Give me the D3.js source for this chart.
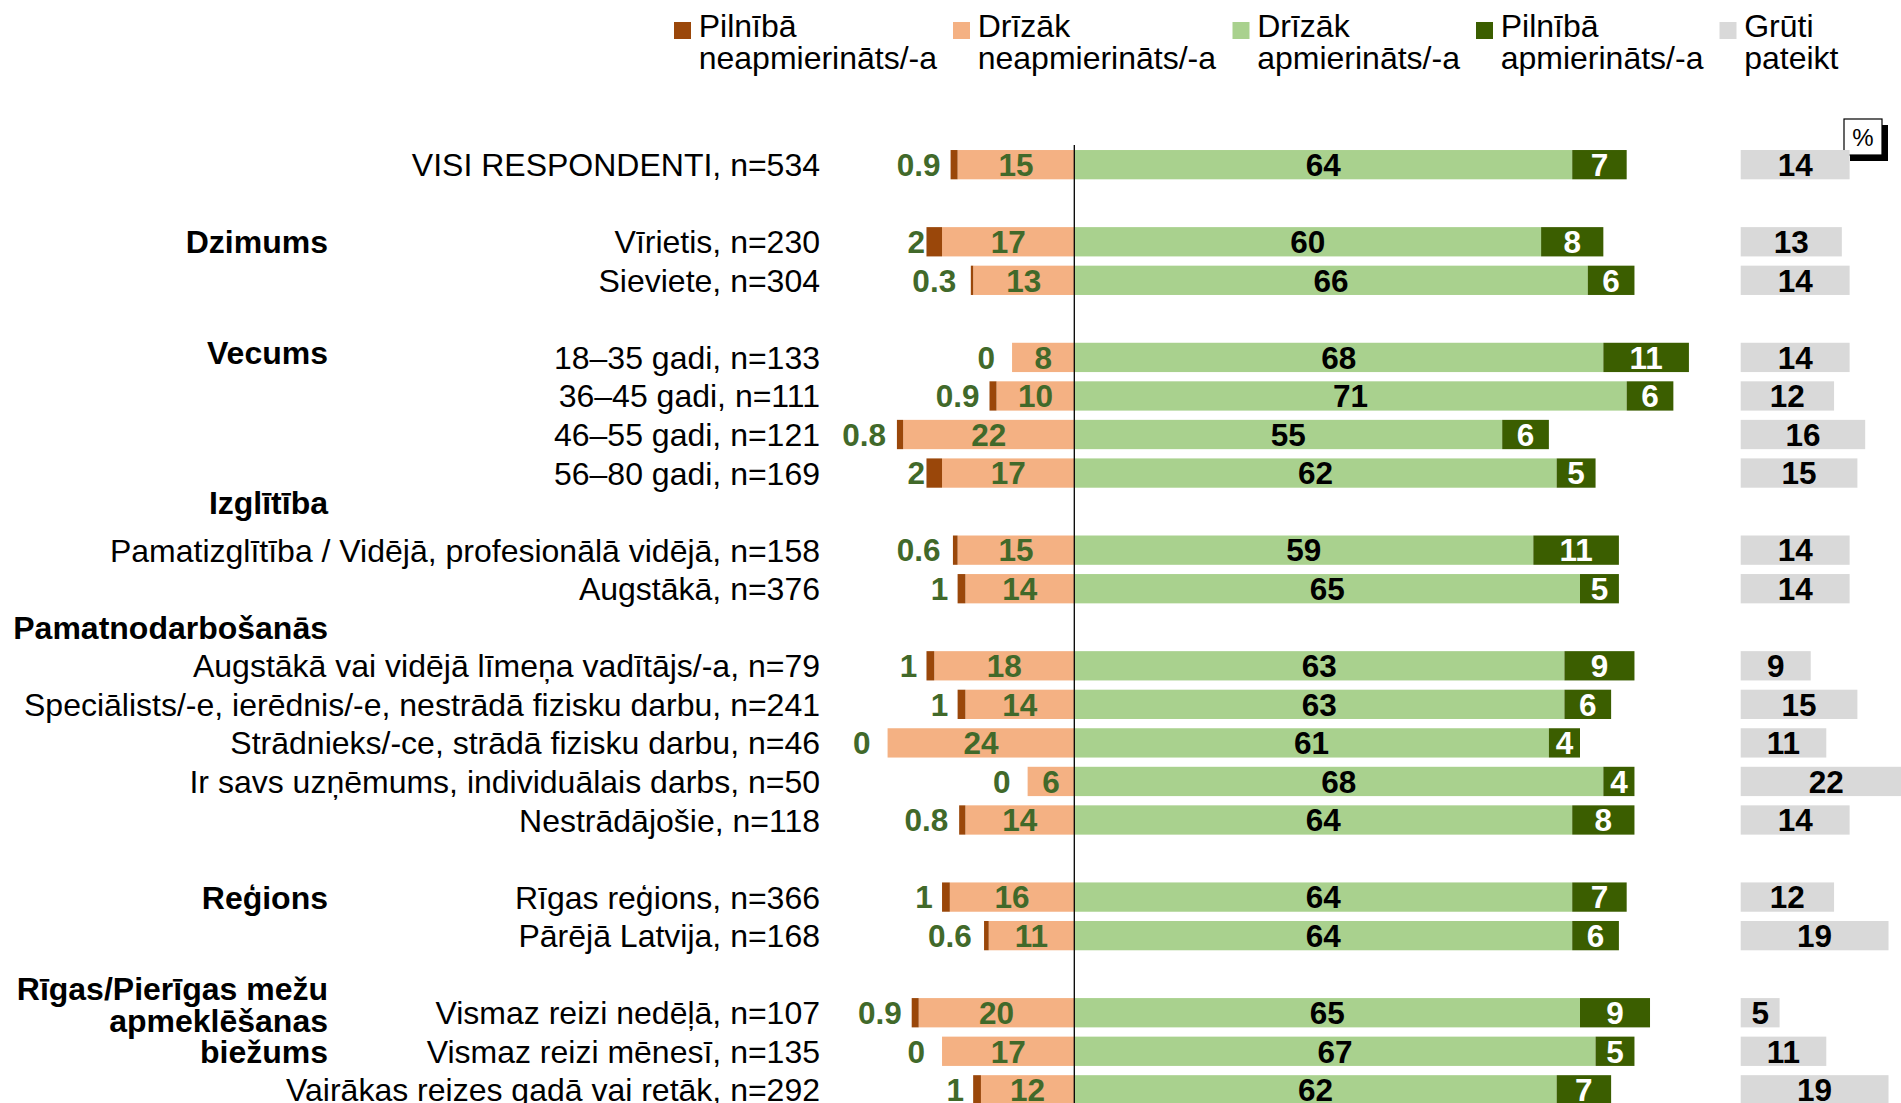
<!DOCTYPE html>
<html lang="lv">
<head>
<meta charset="utf-8">
<script src="https://cdn.jsdelivr.net/npm/d3@7/dist/d3.min.js"></script>
<style>
  html, body { margin: 0; padding: 0; background: #ffffff; }
  svg { display: block; }
  text { font-family: "Liberation Sans", Arial, Helvetica, sans-serif; }
</style>
</head>
<body>
<div id="chart"></div>
<script>
// Row labels; null marks an empty spacer row between groups
const categories = [
  "VISI RESPONDENTI, n=534",
  null,
  "Vīrietis, n=230",
  "Sieviete, n=304",
  null,
  "18–35 gadi, n=133",
  "36–45 gadi, n=111",
  "46–55 gadi, n=121",
  "56–80 gadi, n=169",
  null,
  "Pamatizglītība / Vidējā, profesionālā vidējā, n=158",
  "Augstākā, n=376",
  null,
  "Augstākā vai vidējā līmeņa vadītājs/-a, n=79",
  "Speciālists/-e, ierēdnis/-e, nestrādā fizisku darbu, n=241",
  "Strādnieks/-ce, strādā fizisku darbu, n=46",
  "Ir savs uzņēmums, individuālais darbs, n=50",
  "Nestrādājošie, n=118",
  null,
  "Rīgas reģions, n=366",
  "Pārējā Latvija, n=168",
  null,
  "Vismaz reizi nedēļā, n=107",
  "Vismaz reizi mēnesī, n=135",
  "Vairākas reizes gadā vai retāk, n=292"
];

// Series values, % (null on spacer rows)
const fullyDissatisfied = [0.9, null, 2, 0.3, null, 0, 0.9, 0.8, 2, null, 0.6, 1, null, 1, 1, 0, 0, 0.8, null, 1, 0.6, null, 0.9, 0, 1];
const ratherDissatisfied = [15, null, 17, 13, null, 8, 10, 22, 17, null, 15, 14, null, 18, 14, 24, 6, 14, null, 16, 11, null, 20, 17, 12];
const ratherSatisfied = [64, null, 60, 66, null, 68, 71, 55, 62, null, 59, 65, null, 63, 63, 61, 68, 64, null, 64, 64, null, 65, 67, 62];
const fullySatisfied = [7, null, 8, 6, null, 11, 6, 6, 5, null, 11, 5, null, 9, 6, 4, 4, 8, null, 7, 6, null, 9, 5, 7];
const hardToSay = [14, null, 13, 14, null, 14, 12, 16, 15, null, 14, 14, null, 9, 15, 11, 22, 14, null, 12, 19, null, 5, 11, 19];

// Group headings (lines) and the row each one belongs to
const groupNames = [
  ["Dzimums"],
  ["Vecums"],
  ["Izglītība"],
  ["Pamatnodarbošanās"],
  ["Reģions"],
  ["Rīgas/Pierīgas mežu", "apmeklēšanas", "biežums"]
];
const groupRows = [2, 5, 10, 13, 19, 22];

const legendNames = [
  ["Pilnībā", "neapmierināts/-a"],
  ["Drīzāk", "neapmierināts/-a"],
  ["Drīzāk", "apmierināts/-a"],
  ["Pilnībā", "apmierināts/-a"],
  ["Grūti", "pateikt"]
];

// ---- styling / layout ----
const W = 1901, H = 1103;
const colors = ["#9a470a", "#f4b183", "#a9d18e", "#3b5e00", "#d9d9d9"];
const greenText = "#41692a";
const fontSize = 32;
const valueFont = 31.5;

const svg = d3.select("#chart").append("svg")
  .attr("width", W).attr("height", H)
  .attr("viewBox", `0 0 ${W} ${H}`);

const zeroX = 1074.3, unit = 7.78;
const x = d3.scaleLinear().domain([-30, 80]).range([zeroX - 30 * unit, zeroX + 80 * unit]);
const greyX0 = 1740.7;
const xg = d3.scaleLinear().domain([0, 30]).range([greyX0, greyX0 + 30 * unit]);

const rowIdx = d3.range(categories.length);
const y = d3.scaleBand().domain(rowIdx).range([145.4, 1109.1]).paddingInner(0.24).paddingOuter(0.12);
const cy = i => y(i) + y.bandwidth() / 2;

// "%" note box with drop shadow (drawn first so bars sit on top)
const pct = svg.append("g");
pct.append("rect").attr("x", 1850).attr("y", 125).attr("width", 38).attr("height", 36).attr("fill", "#000");
pct.append("rect").attr("x", 1844).attr("y", 119).attr("width", 38).attr("height", 36)
  .attr("fill", "#fff").attr("stroke", "#000").attr("stroke-width", 1.2);
pct.append("text").attr("x", 1863).attr("y", 138).attr("dy", "0.35em")
  .attr("text-anchor", "middle").attr("font-size", 24).text("%");

// Legend
const legendX = [674, 953, 1232.5, 1476, 1719.5];
const lg = svg.append("g");
legendNames.forEach((lines, k) => {
  lg.append("rect").attr("x", legendX[k]).attr("y", 22).attr("width", 17).attr("height", 17).attr("fill", colors[k]);
  lines.forEach((ln, j) => {
    lg.append("text").attr("x", legendX[k] + 24.7).attr("y", 37 + j * 31.5)
      .attr("font-size", fontSize).attr("fill", "#000").text(ln);
  });
});

const rows = rowIdx.filter(i => categories[i] !== null).map(i => ({
  i,
  label: categories[i],
  v: [fullyDissatisfied[i], ratherDissatisfied[i], ratherSatisfied[i], fullySatisfied[i], hardToSay[i]]
}));

// Stacked segments: negatives to the left of zero, positives to the right
const segs = [];
rows.forEach(r => {
  const [b, p, g, dg] = r.v;
  segs.push({ i: r.i, k: 1, x0: -p, x1: 0, v: p });
  segs.push({ i: r.i, k: 0, x0: -(p + b), x1: -p, v: b });
  segs.push({ i: r.i, k: 2, x0: 0, x1: g, v: g });
  segs.push({ i: r.i, k: 3, x0: g, x1: g + dg, v: dg });
});

const bars = svg.append("g");
bars.selectAll("rect.seg").data(segs.filter(s => s.v > 0)).join("rect")
  .attr("class", "seg")
  .attr("x", d => x(d.x0))
  .attr("width", d => x(d.x1) - x(d.x0))
  .attr("y", d => y(d.i))
  .attr("height", y.bandwidth())
  .attr("fill", d => colors[d.k]);

bars.selectAll("rect.grey").data(rows).join("rect")
  .attr("class", "grey")
  .attr("x", xg(0))
  .attr("width", d => xg(d.v[4]) - xg(0))
  .attr("y", d => y(d.i))
  .attr("height", y.bandwidth())
  .attr("fill", colors[4]);

// Zero line
svg.append("line").attr("x1", zeroX).attr("x2", zeroX).attr("y1", 145).attr("y2", H)
  .attr("stroke", "#000").attr("stroke-width", 1.3);

// Value labels
const fmt = v => String(v);
const vl = svg.append("g").attr("font-size", valueFont).attr("font-weight", "bold");
rows.forEach(r => {
  const [b, p, g, dg, gr] = r.v;
  const yc = cy(r.i);
  // fully dissatisfied: outside, left of the bar
  vl.append("text").attr("x", x(-p) - 17).attr("y", yc).attr("dy", "0.36em")
    .attr("text-anchor", "end").attr("fill", greenText).text(fmt(b));
  vl.append("text").attr("x", x(-p / 2)).attr("y", yc).attr("dy", "0.36em")
    .attr("text-anchor", "middle").attr("fill", greenText).text(fmt(p));
  vl.append("text").attr("x", x(g / 2)).attr("y", yc).attr("dy", "0.36em")
    .attr("text-anchor", "middle").attr("fill", "#000").text(fmt(g));
  vl.append("text").attr("x", x(g + dg / 2)).attr("y", yc).attr("dy", "0.36em")
    .attr("text-anchor", "middle").attr("fill", "#fff").text(fmt(dg));
  vl.append("text").attr("x", xg(gr / 2)).attr("y", yc).attr("dy", "0.36em")
    .attr("text-anchor", "middle").attr("fill", "#000").text(fmt(gr));
});

// Category labels
svg.append("g").selectAll("text").data(rows).join("text")
  .attr("x", 820).attr("y", d => cy(d.i)).attr("dy", "0.36em")
  .attr("text-anchor", "end").attr("font-size", fontSize).attr("fill", "#000")
  .text(d => d.label);

// Group headings (small vertical nudges relative to their first row)
const groupShift = [0, -5, -47.4, -38.5, 0, 7.5];
const gg = svg.append("g").attr("font-size", fontSize).attr("font-weight", "bold");
groupNames.forEach((lines, k) => {
  const yc = cy(groupRows[k]) + groupShift[k];
  const lh = 31.5;
  lines.forEach((ln, j) => {
    gg.append("text").attr("x", 328).attr("y", yc + (j - (lines.length - 1) / 2) * lh)
      .attr("dy", "0.36em").attr("text-anchor", "end").attr("fill", "#000").text(ln);
  });
});
</script>
</body>
</html>
